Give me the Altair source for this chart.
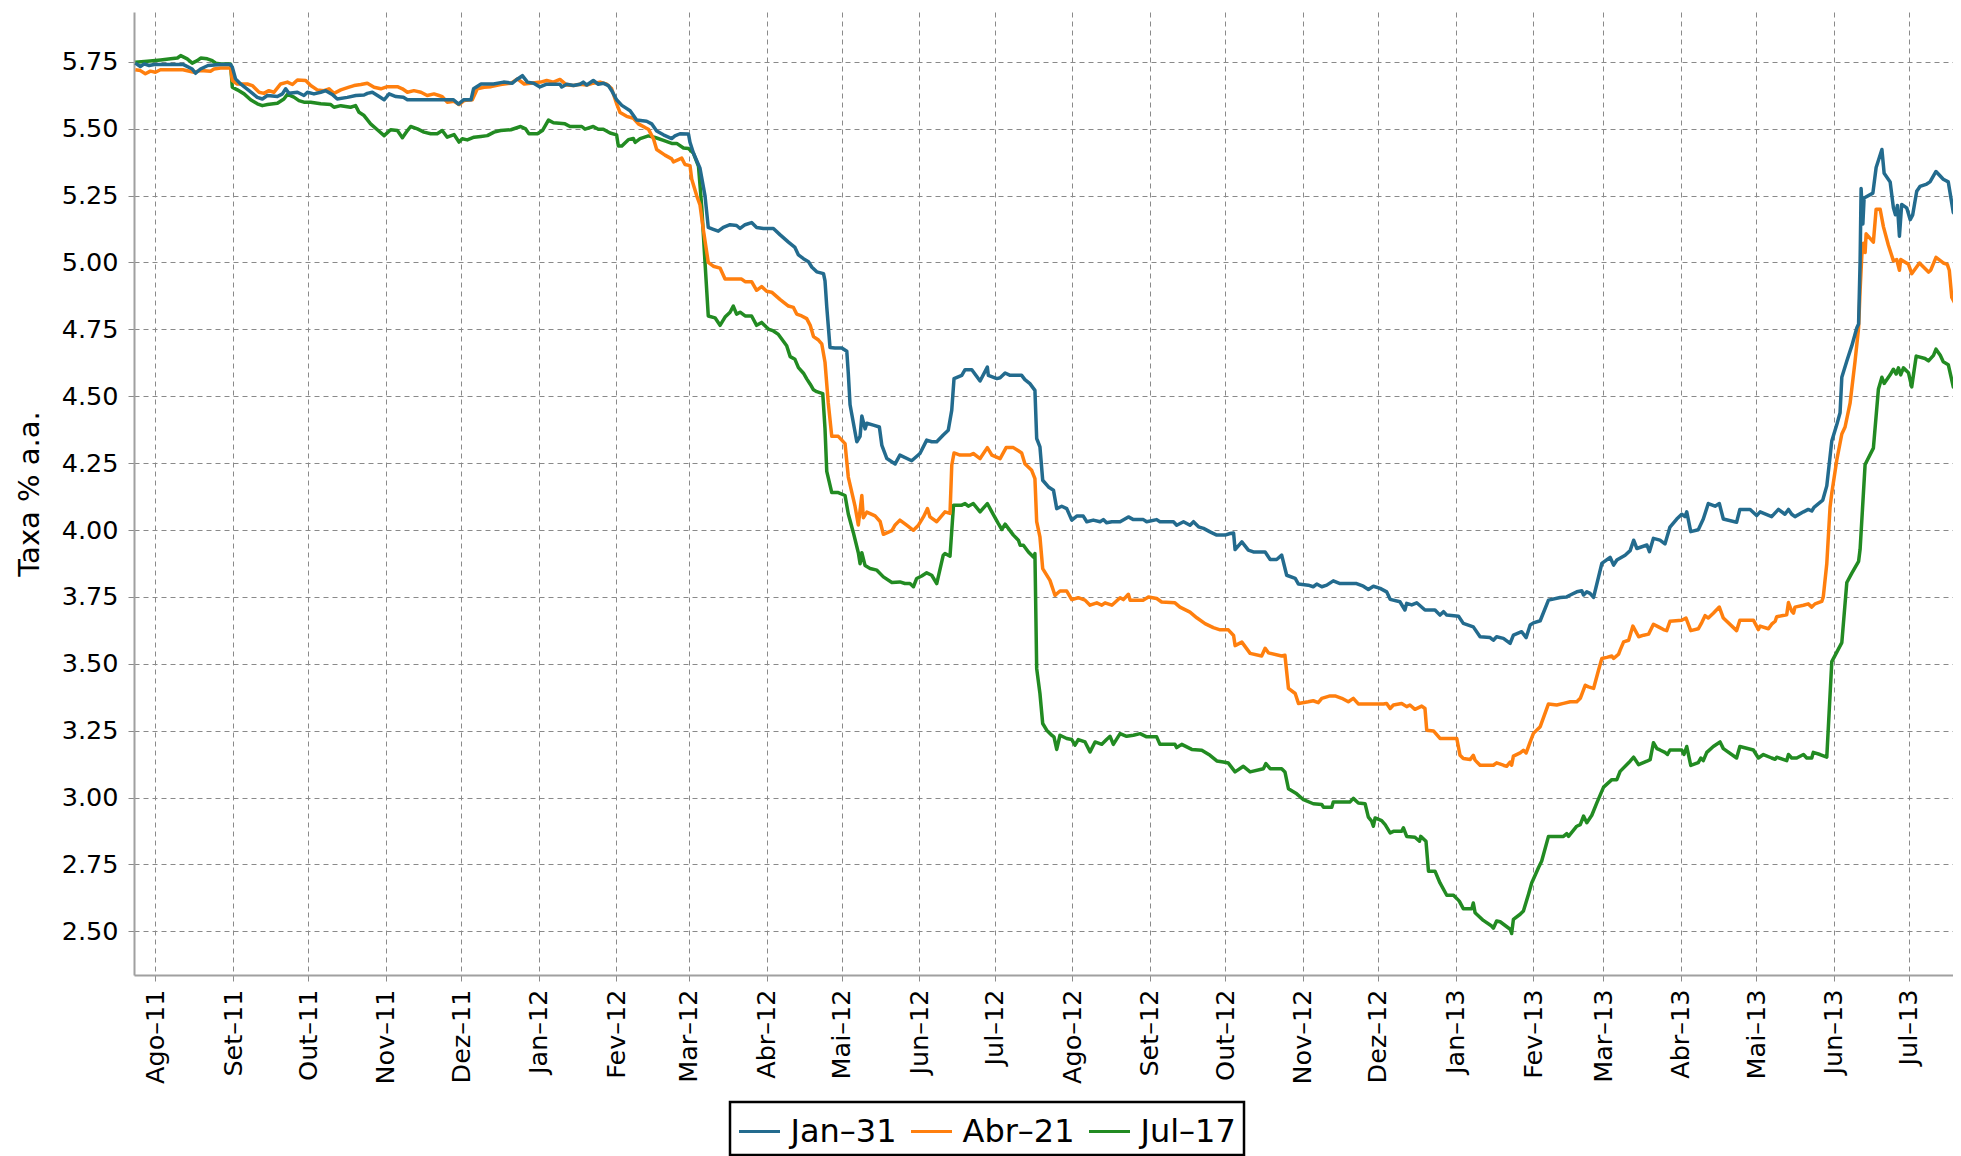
import json
import altair as alt
import pandas as pd

# ---------------- data ----------------
base_date = "2011-08-01"          # day offsets below are counted from this date
series_names = ["Jan–31", "Abr–21", "Jul–17"]
series_colors = ["#236b8e", "#ff7f0e", "#228b22"]
month_labels = ["Jan", "Fev", "Mar", "Abr", "Mai", "Jun", "Jul", "Ago", "Set", "Out", "Nov", "Dez"]
y_ticks = [2.50, 2.75, 3.00, 3.25, 3.50, 3.75, 4.00, 4.25, 4.50, 4.75, 5.00, 5.25, 5.50, 5.75]
x_ticks = [(2011, 8), (2011, 9), (2011, 10), (2011, 11), (2011, 12), (2012, 1), (2012, 2), (2012, 3),
           (2012, 4), (2012, 5), (2012, 6), (2012, 7), (2012, 8), (2012, 9), (2012, 10), (2012, 11),
           (2012, 12), (2013, 1), (2013, 2), (2013, 3), (2013, 4), (2013, 5), (2013, 6), (2013, 7)]

# (day offset, rate)
jan31 = [
    (-8, 5.745), (-6, 5.732), (-4.5, 5.742), (-2.5, 5.736), (-0.5, 5.740), (5, 5.740), (11, 5.740), (14.7, 5.723),
    (16, 5.707), (18, 5.723), (21, 5.736), (26, 5.740), (30, 5.740), (30.7, 5.730), (32, 5.686), (34, 5.667),
    (37.4, 5.642), (40.7, 5.617), (42.7, 5.611), (44.7, 5.624), (48.7, 5.620), (50.7, 5.630), (52, 5.649),
    (53.3, 5.632), (56.7, 5.636), (59.3, 5.624), (60.7, 5.636), (63.3, 5.630), (66, 5.636), (68, 5.642),
    (70.6, 5.628), (72.6, 5.611), (76.6, 5.617), (80, 5.624), (83.3, 5.626), (84.6, 5.632), (86.6, 5.636),
    (89.3, 5.620), (91.3, 5.608), (93.3, 5.630), (96, 5.620), (99, 5.617), (100.6, 5.608), (107, 5.608),
    (115, 5.608), (119, 5.608), (121, 5.592), (123, 5.608), (126, 5.608), (127, 5.649), (130, 5.667),
    (135, 5.667), (139, 5.674), (142.5, 5.670), (144, 5.682), (146.5, 5.698), (148.5, 5.674), (151, 5.670),
    (153.5, 5.656), (156.2, 5.666), (161.5, 5.666), (162.2, 5.656), (164.2, 5.666), (166.9, 5.661),
    (169.5, 5.666), (170.8, 5.674), (172.2, 5.663), (174.8, 5.680), (176.8, 5.666), (178.8, 5.670),
    (180.8, 5.661), (182.1, 5.643), (184.1, 5.608), (186.2, 5.587), (189.5, 5.567), (192.1, 5.532),
    (196.1, 5.528), (198.1, 5.518), (200.1, 5.491), (202.8, 5.477), (206.1, 5.463), (207.4, 5.473),
    (209.4, 5.481), (212.8, 5.480), (213.4, 5.449), (214.8, 5.408), (217.4, 5.352), (219.4, 5.249),
    (220.7, 5.131), (222.7, 5.124), (224.7, 5.117), (226.7, 5.131), (229.4, 5.141), (232.0, 5.138),
    (233.4, 5.127), (235.4, 5.141), (238.0, 5.149), (240.0, 5.131), (242.7, 5.127), (246.7, 5.127),
    (249.3, 5.104), (252.7, 5.076), (255.3, 5.056), (256.7, 5.028), (258.7, 5.014), (260.7, 5.003),
    (262.0, 4.983), (264.0, 4.965), (266.7, 4.958), (267.3, 4.931), (268.0, 4.834), (269.3, 4.682),
    (271.3, 4.680), (274.0, 4.680), (276.0, 4.668), (276.6, 4.585), (277.3, 4.468), (280.0, 4.330),
    (281.3, 4.350), (282.0, 4.426), (283.3, 4.378), (284.0, 4.399), (286.6, 4.392), (289.0, 4.385),
    (290.0, 4.316), (292.0, 4.267), (295.3, 4.247),
    (297.2, 4.280), (301.9, 4.259), (305.2, 4.286), (307.9, 4.336), (309.9, 4.330), (311.9, 4.330),
    (314.5, 4.355), (316.5, 4.373), (317.9, 4.448), (318.8, 4.566), (321.9, 4.578), (323.2, 4.599),
    (325.9, 4.599), (329.2, 4.557), (332.1, 4.609), (332.5, 4.578), (335.9, 4.566), (337.2, 4.569),
    (339.2, 4.587), (341.2, 4.578), (345.8, 4.578), (347.1, 4.562), (349.1, 4.547), (351.1, 4.522),
    (351.8, 4.342), (353.1, 4.311), (354.2, 4.186), (356.5, 4.161), (358.5, 4.149), (359.8, 4.080),
    (361.8, 4.089), (363.8, 4.080), (365.8, 4.037), (367.8, 4.052), (370.4, 4.052), (371.8, 4.031),
    (374.4, 4.037), (377.1, 4.031), (378.4, 4.039), (379.7, 4.027), (381.8, 4.031), (385.1, 4.031),
    (388.4, 4.049), (390.4, 4.039), (394.4, 4.039), (395.7, 4.031), (399.7, 4.039), (401.0, 4.031),
    (406.4, 4.031), (407.7, 4.018), (410.4, 4.031), (413.0, 4.018), (414.4, 4.031), (416.4, 4.012),
    (418.4, 4.006), (421.0, 3.993), (423.7, 3.981), (427.0, 3.981), (429.0, 3.987), (430.4, 3.989),
    (431.0, 3.927), (433.7, 3.956), (436.3, 3.925), (438.3, 3.918), (443.0, 3.918), (445.0, 3.890),
    (447.6, 3.890), (449.6, 3.906), (451.6, 3.831), (455.0, 3.819),
    (456.3, 3.798), (460.2, 3.794), (462.2, 3.788), (463.6, 3.798), (465.6, 3.788), (467.6, 3.794),
    (470.2, 3.810), (472.9, 3.800), (479.5, 3.800), (482.2, 3.790), (484.2, 3.778), (486.2, 3.790),
    (488.9, 3.782), (491.5, 3.769), (492.9, 3.741), (496.8, 3.732), (498.8, 3.701), (499.5, 3.726),
    (501.5, 3.720), (503.5, 3.728), (506.8, 3.701), (510.8, 3.701), (512.8, 3.682), (514.2, 3.695),
    (515.5, 3.682), (520.2, 3.678), (522.1, 3.651), (526.1, 3.638), (528.8, 3.601), (532.8, 3.598),
    (534.1, 3.588), (535.4, 3.601), (538.1, 3.595), (540.8, 3.576), (542.1, 3.607), (545.4, 3.620),
    (547.2, 3.598), (548.8, 3.645), (550.1, 3.653), (552.8, 3.661), (556.1, 3.738), (560.8, 3.748),
    (563.4, 3.750), (564.8, 3.757), (567.4, 3.769), (569.4, 3.773), (570.1, 3.757), (571.4, 3.769),
    (572.7, 3.763), (574.1, 3.748), (577.4, 3.875), (580.7, 3.898), (582.1, 3.869), (583.4, 3.888),
    (586.7, 3.906), (588.7, 3.923), (590.1, 3.962), (591.4, 3.931), (595.4, 3.944), (596.4, 3.919),
    (598.0, 3.969),
    (600.6, 3.962), (602.6, 3.948), (604.6, 4.011), (607.3, 4.041), (609.3, 4.059), (610.6, 4.050),
    (611.3, 4.068), (612.9, 3.994), (615.9, 4.001), (617.9, 4.041), (619.9, 4.099), (622.6, 4.089),
    (624.3, 4.099), (625.9, 4.041), (631.2, 4.029), (632.5, 4.077), (636.6, 4.077), (639.2, 4.054),
    (640.6, 4.068), (645.2, 4.050), (647.9, 4.077), (650.5, 4.059), (651.9, 4.077), (653.2, 4.059),
    (654.5, 4.050), (657.9, 4.068), (659.8, 4.077), (661.2, 4.071), (662.1, 4.085), (665.6, 4.112),
    (667.2, 4.165), (669.2, 4.333), (671.2, 4.394), (672.5, 4.438), (673.2, 4.571), (675.2, 4.632),
    (677.2, 4.689), (679.2, 4.756), (679.9, 4.770), (680.5, 5.003), (680.9, 5.276), (681.6, 5.144),
    (682.1, 5.241), (685.6, 5.259), (686.9, 5.355), (689.2, 5.422), (690.1, 5.333), (692.5, 5.301),
    (693.8, 5.204), (694.6, 5.178), (695.4, 5.213), (696.2, 5.098), (697.1, 5.217), (699.1, 5.204),
    (700.5, 5.160), (701.5, 5.178), (703.1, 5.266), (704.4, 5.284), (707.1, 5.293), (708.4, 5.301),
    (710.8, 5.340), (713.7, 5.311), (715.7, 5.301), (717.7, 5.187), (720.8, 5.152),
]

abr21 = [
    (-8, 5.720), (-6, 5.717), (-4, 5.705), (-2, 5.715), (0, 5.711), (2, 5.720), (5, 5.720), (11, 5.720),
    (15.4, 5.711), (18, 5.717), (22, 5.715), (23.4, 5.723), (26, 5.727), (30, 5.727), (30.7, 5.680),
    (32.7, 5.667), (36.7, 5.667), (38.7, 5.661), (41.4, 5.636), (43.3, 5.632), (45.3, 5.642), (47.3, 5.636),
    (50, 5.667), (52.7, 5.674), (54.7, 5.665), (56.7, 5.682), (60, 5.680), (62, 5.661), (64.6, 5.645),
    (67.3, 5.642), (69.3, 5.649), (71.3, 5.632), (74, 5.645), (77.3, 5.655), (79.3, 5.661), (82, 5.665),
    (84.6, 5.670), (87.3, 5.655), (90, 5.649), (92.6, 5.657), (96.6, 5.657), (98.6, 5.649), (100.6, 5.636),
    (103.2, 5.642), (106, 5.636), (108.5, 5.624), (111.2, 5.630), (113.2, 5.624), (114.5, 5.620),
    (116.5, 5.599), (119.2, 5.602), (121.2, 5.590), (123.2, 5.605), (126.5, 5.608), (128.5, 5.649),
    (131.2, 5.655), (134, 5.657), (137.8, 5.665), (142, 5.670), (144.5, 5.686), (147.2, 5.667),
    (149.8, 5.670), (153.8, 5.674),
    (156.2, 5.680), (158.9, 5.674), (161.5, 5.684), (164.2, 5.663), (166.9, 5.661), (169.5, 5.666),
    (172.2, 5.663), (174.8, 5.670), (177.5, 5.674), (180.2, 5.666), (182.1, 5.650), (184.1, 5.594),
    (185.5, 5.560), (188.1, 5.546), (190.8, 5.539), (192.8, 5.518), (195.5, 5.504), (196.8, 5.498),
    (198.8, 5.463), (200.1, 5.422), (203.4, 5.401), (206.1, 5.387), (206.8, 5.376), (210.1, 5.390),
    (211.4, 5.366), (213.4, 5.362), (214.1, 5.311), (216.1, 5.249), (217.4, 5.215), (218.7, 5.124),
    (220.7, 5.000), (222.7, 4.986), (225.4, 4.979), (227.4, 4.938), (230.7, 4.938), (234.0, 4.938),
    (235.4, 4.928), (238.0, 4.928), (240.0, 4.896), (242.0, 4.910), (244.0, 4.892), (246.0, 4.889),
    (249.3, 4.862), (252.7, 4.837), (254.7, 4.832), (256.0, 4.807), (258.0, 4.800), (260.0, 4.790),
    (261.4, 4.765), (262.7, 4.723), (264.7, 4.710), (266.0, 4.696), (267.3, 4.627), (268.6, 4.475),
    (270.0, 4.350), (272.6, 4.350), (275.3, 4.323), (276.6, 4.198), (279.3, 4.088), (280.6, 4.019),
    (282.0, 4.129), (282.6, 4.046), (284.0, 4.067), (287.3, 4.053), (289.3, 4.032), (290.6, 3.984),
    (294.0, 3.998), (295.3, 4.019),
    (297.2, 4.037), (299.9, 4.018), (302.6, 3.999), (304.6, 4.018), (306.6, 4.049), (308.2, 4.080),
    (309.2, 4.049), (311.9, 4.031), (315.2, 4.068), (317.2, 4.062), (317.9, 4.242), (318.8, 4.288),
    (321.2, 4.280), (325.2, 4.280), (326.5, 4.286), (329.2, 4.267), (332.1, 4.308), (333.9, 4.280),
    (337.2, 4.267), (339.6, 4.308), (342.5, 4.308), (344.5, 4.296), (345.8, 4.288), (347.1, 4.248),
    (349.8, 4.223), (351.1, 4.192), (351.8, 4.031), (353.1, 3.974), (354.2, 3.856), (357.1, 3.812),
    (359.1, 3.756), (361.1, 3.772), (363.8, 3.772), (365.8, 3.740), (368.4, 3.747), (371.1, 3.738),
    (373.1, 3.719), (375.8, 3.728), (377.8, 3.719), (379.1, 3.728), (381.8, 3.719), (385.1, 3.747),
    (386.4, 3.740), (388.4, 3.760), (389.1, 3.738), (394.4, 3.738), (396.4, 3.750), (399.7, 3.744),
    (401.7, 3.731), (407.0, 3.728), (409.0, 3.712), (413.0, 3.693), (415.7, 3.672), (419.0, 3.650),
    (422.3, 3.635), (425.0, 3.627), (428.3, 3.627), (430.4, 3.606), (431.0, 3.568), (433.7, 3.581),
    (437.0, 3.539), (441.6, 3.529), (443.0, 3.558), (444.3, 3.541), (449.6, 3.529), (450.9, 3.532),
    (452.3, 3.408), (455.0, 3.389),
    (456.3, 3.352), (460.2, 3.358), (462.2, 3.362), (464.2, 3.355), (465.6, 3.371), (468.9, 3.380),
    (470.9, 3.380), (473.6, 3.371), (476.2, 3.358), (478.2, 3.371), (480.2, 3.350), (490.2, 3.350),
    (491.5, 3.352), (492.9, 3.333), (494.2, 3.346), (497.5, 3.352), (499.5, 3.340), (500.8, 3.346),
    (502.8, 3.330), (505.5, 3.342), (506.8, 3.333), (507.5, 3.252), (510.2, 3.249), (512.8, 3.221),
    (519.5, 3.221), (520.8, 3.158), (522.1, 3.146), (524.8, 3.142), (526.1, 3.158), (526.8, 3.140),
    (528.8, 3.121), (534.1, 3.121), (535.4, 3.130), (538.1, 3.121), (539.4, 3.117), (540.8, 3.133),
    (541.4, 3.121), (542.1, 3.155), (544.8, 3.167), (546.1, 3.177), (547.2, 3.167), (548.8, 3.208),
    (550.1, 3.240), (552.8, 3.265), (556.1, 3.350), (559.4, 3.346), (562.1, 3.352), (564.8, 3.358),
    (567.4, 3.358), (568.8, 3.371), (570.8, 3.420), (572.1, 3.414), (574.1, 3.408), (576.1, 3.477),
    (577.4, 3.520), (579.4, 3.524), (581.4, 3.529), (582.1, 3.520), (584.1, 3.536), (584.7, 3.551),
    (586.1, 3.582), (588.1, 3.588), (589.8, 3.641), (592.1, 3.601), (594.1, 3.607), (596.1, 3.611),
    (598.0, 3.648), (600.0, 3.638),
    (602.0, 3.628), (603.3, 3.624), (604.6, 3.659), (609.3, 3.663), (611.0, 3.671), (612.9, 3.624),
    (615.9, 3.631), (617.3, 3.654), (618.6, 3.680), (619.9, 3.671), (621.9, 3.689), (624.3, 3.712),
    (625.9, 3.671), (631.2, 3.624), (632.5, 3.663), (637.9, 3.663), (639.9, 3.628), (640.6, 3.641),
    (643.9, 3.631), (645.2, 3.648), (646.6, 3.659), (647.2, 3.676), (651.2, 3.683), (651.9, 3.729),
    (653.2, 3.697), (653.9, 3.689), (654.5, 3.712), (657.9, 3.719), (659.8, 3.724), (661.2, 3.712),
    (662.5, 3.724), (665.2, 3.733), (665.8, 3.750), (667.2, 3.874), (668.5, 4.085), (669.2, 4.138),
    (671.2, 4.262), (673.2, 4.359), (674.5, 4.385), (676.5, 4.474), (678.5, 4.632), (679.9, 4.756),
    (680.5, 4.897), (681.2, 5.028), (681.8, 5.072), (682.5, 5.037), (682.9, 5.107), (685.8, 5.076),
    (686.9, 5.199), (688.5, 5.199), (689.8, 5.134), (691.8, 5.064), (693.8, 5.006), (695.1, 5.011),
    (696.2, 4.971), (696.7, 5.011), (699.8, 4.993), (701.1, 4.958), (704.2, 4.998), (707.8, 4.964),
    (708.7, 4.971), (710.8, 5.019), (713.7, 4.998), (715.3, 4.993), (716.1, 4.971), (717.1, 4.869),
    (719.1, 4.834), (720.8, 4.808),
]

jul17 = [
    (-8, 5.748), (-3.2, 5.752), (2.1, 5.757), (6.1, 5.761), (8.8, 5.764), (10.1, 5.773), (12.7, 5.761),
    (14.7, 5.745), (16.7, 5.754), (18.1, 5.764), (20.7, 5.761), (22.7, 5.754), (24.1, 5.745), (26.1, 5.742),
    (30, 5.742), (30.7, 5.655), (32.7, 5.645), (35.4, 5.630), (38, 5.608), (40.7, 5.593), (42.7, 5.586),
    (44.7, 5.590), (48.7, 5.595), (51.3, 5.611), (52.7, 5.628), (55.3, 5.618), (57.3, 5.605), (59.3, 5.599),
    (62, 5.599), (66, 5.593), (70, 5.590), (71.3, 5.580), (74, 5.586), (77.9, 5.580), (79.9, 5.586),
    (81.3, 5.561), (83.3, 5.549), (85.9, 5.518), (88.6, 5.496), (91.3, 5.474), (93.9, 5.496), (96.6, 5.493),
    (98.6, 5.466), (100.6, 5.493), (101.9, 5.508), (104.6, 5.499), (107.2, 5.487), (109.9, 5.481),
    (112.5, 5.481), (114.5, 5.493), (116.5, 5.468), (119.2, 5.478), (121.2, 5.450), (122.5, 5.462),
    (124.5, 5.458), (127.2, 5.468), (129.9, 5.471), (132.5, 5.474), (135.2, 5.487), (137.8, 5.493),
    (141.9, 5.496), (145.8, 5.508), (147.8, 5.499), (149.1, 5.481), (152.5, 5.481), (154.5, 5.493),
    (156.9, 5.532), (158.9, 5.522), (163.5, 5.518), (165.5, 5.508), (170.2, 5.508), (171.5, 5.498),
    (174.8, 5.508), (176.8, 5.498), (178.8, 5.498), (181.5, 5.484), (184.1, 5.477), (184.8, 5.435),
    (186.2, 5.435), (188.8, 5.459), (190.8, 5.463), (191.5, 5.449), (193.5, 5.463), (196.8, 5.473),
    (199.5, 5.467), (202.8, 5.456), (206.1, 5.445), (208.1, 5.445), (210.8, 5.428), (212.8, 5.426),
    (214.8, 5.408), (216.8, 5.359), (218.1, 5.207), (219.4, 5.000), (220.7, 4.800), (223.4, 4.793),
    (225.4, 4.765), (227.4, 4.796), (229.4, 4.814), (230.7, 4.837), (232.0, 4.807), (233.4, 4.814),
    (235.4, 4.800), (238.0, 4.800), (240.0, 4.765), (242.0, 4.776), (244.7, 4.751), (246.7, 4.744),
    (248.7, 4.731), (252.0, 4.689), (253.4, 4.648), (255.3, 4.638), (256.7, 4.607), (258.7, 4.586),
    (260.0, 4.565), (261.4, 4.545), (262.7, 4.524), (264.0, 4.517), (266.4, 4.510), (267.3, 4.379),
    (268.0, 4.219), (270.0, 4.140), (272.6, 4.140), (275.3, 4.129), (276.6, 4.060), (278.6, 3.991),
    (280.6, 3.915), (281.3, 3.874), (282.0, 3.915), (283.3, 3.867), (285.3, 3.856), (288.0, 3.850),
    (290.6, 3.825), (294.0, 3.804),
    (297.2, 3.806), (299.2, 3.800), (301.2, 3.800), (302.6, 3.788), (303.9, 3.819), (305.9, 3.828),
    (307.9, 3.840), (309.9, 3.831), (311.9, 3.800), (314.5, 3.906), (315.2, 3.912), (317.2, 3.902),
    (318.6, 4.093), (321.9, 4.093), (323.2, 4.099), (324.5, 4.089), (326.5, 4.099), (329.2, 4.068),
    (332.1, 4.099), (333.9, 4.068), (336.5, 4.024), (337.9, 4.002), (339.2, 4.022), (342.5, 3.981),
    (344.5, 3.962), (345.2, 3.943), (346.5, 3.943), (348.5, 3.918), (350.5, 3.899), (351.1, 3.912),
    (351.8, 3.482), (353.1, 3.389), (354.2, 3.277), (355.8, 3.252), (357.8, 3.233), (358.7, 3.227),
    (359.8, 3.180), (361.1, 3.233), (363.8, 3.221), (365.8, 3.217), (367.1, 3.196), (368.4, 3.217),
    (371.1, 3.208), (373.1, 3.171), (375.1, 3.208), (377.8, 3.199), (379.7, 3.217), (381.1, 3.229),
    (382.4, 3.199), (385.1, 3.239), (387.7, 3.229), (390.4, 3.233), (393.1, 3.239), (395.7, 3.227),
    (399.7, 3.227), (401.0, 3.199), (407.0, 3.199), (407.7, 3.187), (409.7, 3.199), (413.7, 3.180),
    (417.7, 3.177), (421.0, 3.158), (423.7, 3.137), (426.3, 3.133), (428.3, 3.129), (431.0, 3.096),
    (434.3, 3.117), (437.0, 3.096), (442.3, 3.108), (443.3, 3.127), (445.0, 3.108), (449.6, 3.108),
    (450.9, 3.096), (452.3, 3.033), (455.6, 3.014),
    (458.3, 2.992), (462.2, 2.977), (465.6, 2.974), (466.3, 2.964), (469.6, 2.964), (470.2, 2.984),
    (476.9, 2.984), (478.2, 2.997), (480.2, 2.980), (482.9, 2.977), (484.2, 2.927), (485.5, 2.912),
    (486.2, 2.893), (486.9, 2.924), (489.5, 2.914), (490.9, 2.899), (492.9, 2.868), (494.2, 2.874),
    (497.5, 2.874), (498.2, 2.887), (499.5, 2.855), (502.8, 2.852), (504.6, 2.837), (505.1, 2.855),
    (507.2, 2.837), (508.2, 2.725), (510.8, 2.725), (512.8, 2.681), (515.5, 2.635), (518.2, 2.635),
    (520.5, 2.613), (522.1, 2.585), (525.5, 2.585), (526.1, 2.606), (526.8, 2.570), (530.1, 2.541),
    (533.4, 2.520), (534.1, 2.512), (535.4, 2.539), (536.8, 2.536), (540.8, 2.508), (541.4, 2.492),
    (542.1, 2.545), (544.8, 2.564), (546.1, 2.576), (548.1, 2.638), (549.4, 2.681), (552.1, 2.738),
    (553.4, 2.763), (556.1, 2.855), (562.1, 2.855), (563.4, 2.865), (564.1, 2.855), (567.4, 2.893),
    (568.8, 2.899), (570.1, 2.931), (571.4, 2.906), (573.4, 2.934), (575.4, 2.980), (578.1, 3.039),
    (581.4, 3.067), (583.4, 3.067), (584.7, 3.098), (588.7, 3.136), (590.1, 3.151), (592.1, 3.123),
    (595.4, 3.136), (596.7, 3.142), (598.0, 3.205), (599.4, 3.183),
    (600.6, 3.178), (602.6, 3.169), (603.6, 3.161), (604.6, 3.178), (609.3, 3.178), (610.2, 3.161),
    (611.3, 3.191), (612.9, 3.120), (615.9, 3.131), (616.9, 3.148), (617.9, 3.138), (619.3, 3.169),
    (621.9, 3.191), (624.6, 3.208), (625.9, 3.183), (631.2, 3.148), (632.5, 3.191), (637.9, 3.178),
    (639.9, 3.148), (641.9, 3.161), (645.2, 3.148), (646.6, 3.143), (647.2, 3.151), (651.2, 3.138),
    (651.9, 3.161), (653.2, 3.148), (655.2, 3.148), (657.9, 3.161), (659.2, 3.148), (661.2, 3.148),
    (661.8, 3.169), (664.5, 3.161), (667.2, 3.151), (669.2, 3.508), (673.2, 3.579), (675.2, 3.804),
    (677.2, 3.839), (679.9, 3.883), (680.5, 3.928), (682.5, 4.245), (685.8, 4.306), (687.8, 4.526),
    (689.2, 4.571), (690.1, 4.548), (692.5, 4.580), (693.8, 4.601), (694.9, 4.583), (695.8, 4.606),
    (696.7, 4.580), (697.8, 4.606), (699.8, 4.588), (701.1, 4.535), (702.9, 4.650), (706.4, 4.641),
    (707.8, 4.632), (709.8, 4.653), (710.8, 4.676), (712.5, 4.653), (713.7, 4.629), (715.7, 4.618),
    (717.7, 4.535), (720.8, 4.509),
]

# ---------------- table ----------------
rows = []
base = pd.Timestamp(base_date)
for name, pts in zip(series_names, [jan31, abr21, jul17]):
    for d, v in pts:
        t = base + pd.Timedelta(days=d)
        rows.append({"serie": name, "data": t.strftime("%Y-%m-%dT%H:%M:%SZ"), "taxa": v})
df = pd.DataFrame(rows)

FONT = "DejaVu Sans"
label_expr = json.dumps(month_labels) + "[utcmonth(datum.value)] + '–' + utcFormat(datum.value, '%y')"

x_enc = alt.X(
    "data:T",
    scale=alt.Scale(
        type="utc",
        domain=[alt.DateTime(year=2011, month=7, date=23, hours=11, utc=True),
                alt.DateTime(year=2013, month=7, date=18, hours=14, utc=True)],
    ),
    axis=alt.Axis(
        values=[alt.DateTime(year=y, month=m, date=1, utc=True) for y, m in x_ticks],
        labelExpr=label_expr,
        labelAngle=270,
        labelPadding=8,
        title=None,
    ),
)
y_enc = alt.Y(
    "taxa:Q",
    scale=alt.Scale(domain=[2.337, 5.936], nice=False, zero=False),
    axis=alt.Axis(
        values=y_ticks,
        format=".2f",
        labelPadding=10,
        title="Taxa % a.a.",
        titleFont=FONT,
        titleFontSize=29,
        titleFontWeight="normal",
        titleColor="black",
        titleAngle=270,
        titleX=-105,
        titleY=481.5,
        titleAlign="center",
        titleBaseline="middle",
    ),
)
color_enc = alt.Color(
    "serie:N",
    scale=alt.Scale(domain=series_names, range=series_colors),
    legend=alt.Legend(
        title=None,
        orient="none",
        legendX=596,
        legendY=1090,
        direction="horizontal",
        symbolType="stroke",
        symbolSize=1681,
        symbolStrokeWidth=3,
        labelFont=FONT,
        labelFontSize=32,
        labelColor="black",
        labelOffset=9,
        columnPadding=7,
        padding=7.5,
        strokeColor="black",
        fillColor="white",
    ),
)

layers = []
for name in ["Jul–17", "Abr–21", "Jan–31"]:   # blue drawn on top
    layers.append(
        alt.Chart(df)
        .transform_filter(alt.datum.serie == name)
        .mark_line(strokeWidth=3.5, clip=True, strokeJoin="round")
        .encode(x=x_enc, y=y_enc, color=color_enc)
    )

chart = (
    alt.layer(*layers)
    .properties(
        width=1819,
        height=963,
        autosize=alt.AutoSizeParams(type="none"),
        padding={"left": 126, "top": 4, "right": 0, "bottom": 181},
        background="white",
    )
    .configure_view(stroke=None)
    .configure_axis(
        labelFont=FONT,
        labelFontSize=25.5,
        labelColor="black",
        tickColor="#8a8a8a",
        tickSize=6,
        domainColor="#a0a0a0",
        domainWidth=2,
        grid=True,
        gridColor="#8a8a8a",
        gridDash=[5, 4],
        gridWidth=1,
        gridOpacity=1,
    )
    .configure_legend(strokeWidth=2.5)
)

chart.save("out.html", embed_options={"renderer": "svg", "actions": False})
